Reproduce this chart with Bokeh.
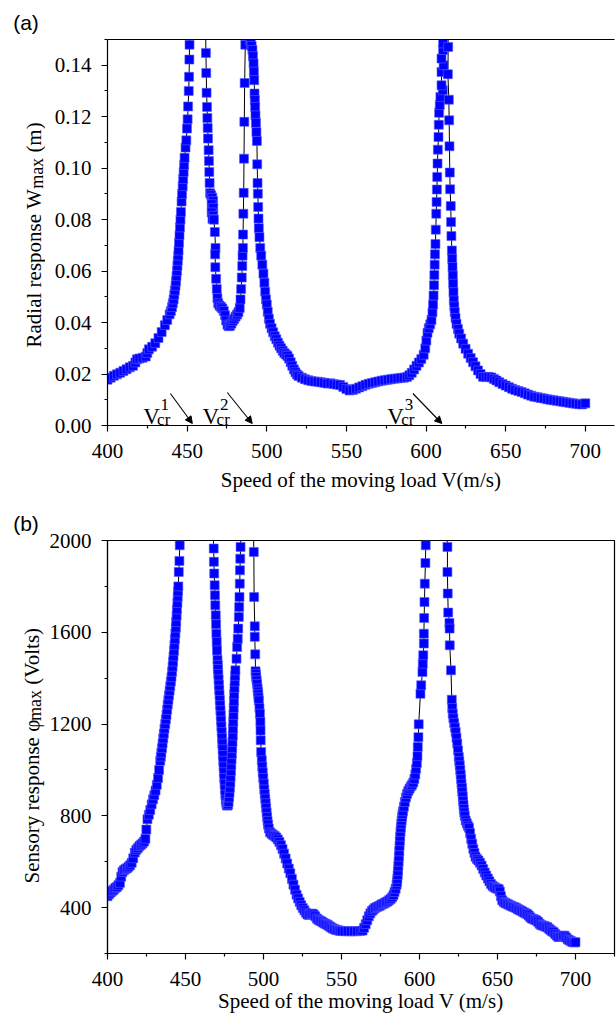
import math
from bokeh.plotting import figure
from bokeh.models import (FixedTicker, PrintfTickFormatter, Label, Arrow, NormalHead,
                          Range1d, LinearAxis)
from bokeh.layouts import column, row
from bokeh.embed import file_html
from bokeh.resources import INLINE

# ================= data =================
# ---- panel (a): radial response W_max (m) vs speed V (m/s) ----
a_rise1_v = [400, 402, 404, 406, 408, 410, 412, 414, 416, 417.5, 418.5, 420, 422, 424, 425, 426,
             428, 430, 432, 434, 436, 437.5, 439.0, 439.8, 440.5, 441.0, 441.5, 441.9, 442.3,
             442.7, 443.0, 443.3, 443.6, 443.9, 444.1, 444.4, 444.6, 444.9, 445.2, 445.5, 445.8,
             446.1, 446.5, 446.8, 447.2, 447.5, 447.8, 448.1, 448.4, 449.0, 449.5, 449.9, 450.3,
             450.6, 451.0, 451.2, 451.4, 451.5]
a_rise1_w = [0.0178, 0.0186, 0.0193, 0.0199, 0.0205, 0.0212, 0.0219, 0.0226, 0.0232, 0.0245,
             0.0257, 0.0260, 0.0263, 0.0268, 0.0282, 0.0296, 0.0306, 0.0320, 0.0340, 0.0363,
             0.0390, 0.0410, 0.0432, 0.0445, 0.0460, 0.0475, 0.0490, 0.0508, 0.0525, 0.0543,
             0.0560, 0.0580, 0.0600, 0.0620, 0.0640, 0.0660, 0.0680, 0.0710, 0.0740, 0.0770,
             0.0800, 0.0830, 0.0870, 0.0900, 0.0930, 0.0958, 0.0985, 0.1012, 0.1040, 0.1080,
             0.1108, 0.1154, 0.1190, 0.1240, 0.1300, 0.1355, 0.1422, 0.1480]
a_dip_v = [461.8, 462.0, 462.2, 462.5, 462.7, 462.9, 463.1, 463.5, 463.7, 463.9, 464.1, 464.4,
           465.1, 465.8, 466.3, 465.4, 466.4, 465.4, 466.4, 465.9, 466.8, 467.4, 467.8, 467.6,
           467.7, 468.2, 468.6, 469.0, 469.5, 470.3, 471.2, 472.1, 473.0, 473.8, 474.5, 475.3,
           476.1, 477.0, 477.8, 478.6, 479.5, 480.4, 481.3, 482.2, 483.0, 483.5, 483.9, 484.3,
           484.6, 484.8, 485.0, 485.1, 485.3, 485.5, 485.7, 485.9, 486.1, 486.5]
a_dip_w = [0.1448, 0.1370, 0.1293, 0.1238, 0.1195, 0.1156, 0.1115, 0.1070, 0.1028, 0.0985,
           0.0942, 0.0903, 0.0895, 0.0885, 0.0872, 0.0860, 0.0845, 0.0828, 0.0815, 0.0803,
           0.0800, 0.0752, 0.0690, 0.0665, 0.0615, 0.0570, 0.0530, 0.0495, 0.0475, 0.0466,
           0.0461, 0.0455, 0.0445, 0.0428, 0.0408, 0.0392, 0.0386, 0.0388, 0.0396, 0.0406,
           0.0414, 0.0423, 0.0431, 0.0440, 0.0457, 0.0490, 0.0530, 0.0575, 0.0620, 0.0660,
           0.0690, 0.0742, 0.0823, 0.0904, 0.1037, 0.1180, 0.1331, 0.1480]
a_fall2_v = [489.6, 490.0, 490.5, 491.0, 491.3, 491.7, 491.9, 492.1, 492.3, 492.5, 492.7, 492.9,
             493.2, 493.5, 493.8, 494.0, 494.2, 494.4, 494.6, 494.8, 495.0, 495.4, 495.9, 496.5,
             497.2, 497.9, 498.5, 499.0, 499.5, 500.0, 500.6, 501.3, 502.0, 503, 504, 505, 506,
             507, 508, 509, 510, 511, 512, 513, 514, 515, 516, 517, 518, 519, 520]
a_fall2_w = [0.1497, 0.1488, 0.1475, 0.1459, 0.1435, 0.1407, 0.1375, 0.1342, 0.1290, 0.1265,
             0.1238, 0.1205, 0.1176, 0.1140, 0.1106, 0.1015, 0.0942, 0.0901, 0.0849, 0.0804,
             0.0767, 0.0732, 0.0690, 0.0660, 0.0625, 0.0590, 0.0555, 0.0520, 0.0490, 0.0470,
             0.0442, 0.0415, 0.0395, 0.0378, 0.0362, 0.0347, 0.0335, 0.0322, 0.0310, 0.0300,
             0.0290, 0.0282, 0.0276, 0.0270, 0.0260, 0.0246, 0.0232, 0.0218, 0.0207, 0.0198,
             0.0192]
a_valley_v = [522, 524, 526, 528, 530, 532, 534, 536, 538, 540, 542, 544, 546, 548, 550, 552,
              554, 556, 558, 560, 562, 564, 566, 568, 570, 572, 574, 576, 578, 580, 582, 584,
              586, 588]
a_valley_w = [0.0186, 0.0180, 0.0176, 0.0173, 0.0171, 0.0170, 0.0168, 0.0166, 0.0163, 0.0164,
              0.0161, 0.0159, 0.0157, 0.0150, 0.0142, 0.0136, 0.0138, 0.0143, 0.0148, 0.0153,
              0.0158, 0.0162, 0.0165, 0.0168, 0.0171, 0.0174, 0.0176, 0.0178, 0.0180, 0.0182,
              0.0183, 0.0185, 0.0186, 0.0188]
a_rise3_v = [589.5, 591, 592.5, 594, 595.5, 597, 598.5, 599.5, 600.2, 600.9, 601.7, 602.6, 603.4,
             604.0, 604.4, 604.7, 605.0, 605.2, 605.4, 605.6, 605.9, 606.1, 606.4, 606.6, 606.8,
             607.0, 607.2, 607.4, 607.8, 608.0, 608.2, 608.6, 609.0, 610.5, 609.7, 609.7, 611.0,
             609.7, 610.7, 610.7]
a_rise3_w = [0.0195, 0.0205, 0.0218, 0.0232, 0.0245, 0.0258, 0.0275, 0.0300, 0.0330, 0.0360,
             0.0378, 0.0393, 0.0410, 0.0440, 0.0470, 0.0505, 0.0545, 0.0585, 0.0625, 0.0665,
             0.0705, 0.0761, 0.0823, 0.0869, 0.0917, 0.0966, 0.1018, 0.1072, 0.1121, 0.1169,
             0.1215, 0.1245, 0.1277, 0.1303, 0.1322, 0.1374, 0.1400, 0.1426, 0.1459, 0.1485]
a_fall3_v = [613.9, 613.7, 614.3, 614.5, 614.7, 614.9, 615.1, 615.5, 615.7, 615.9, 616.2, 616.4,
             616.6, 616.8, 617.0, 617.2, 617.4, 617.7, 618.0, 618.5, 619.1, 620.0, 620.8, 622.0,
             623.3, 624.8, 626.4, 628.0, 629.5, 631.0, 632.6, 634.2, 635.8, 637.5, 639.2, 641.0,
             642.6, 644.2]
a_fall3_w = [0.1471, 0.1365, 0.1266, 0.1186, 0.1085, 0.0983, 0.0918, 0.0853, 0.0791, 0.0736,
             0.0680, 0.0648, 0.0616, 0.0583, 0.0551, 0.0518, 0.0486, 0.0463, 0.0441, 0.0418,
             0.0395, 0.0375, 0.0357, 0.0338, 0.0318, 0.0298, 0.0279, 0.0262, 0.0246, 0.0230,
             0.0214, 0.0200, 0.0189, 0.0188, 0.0189, 0.0187, 0.0181, 0.0175]
a_tail_v = [646, 648, 650, 652, 654, 656, 658, 660, 662, 664, 666, 668, 670, 672, 674, 676, 678,
            680, 682, 684, 686, 688, 690, 692, 694, 696, 698, 700]
a_tail_w = [0.0168, 0.0161, 0.0155, 0.0149, 0.0143, 0.0138, 0.0134, 0.0130, 0.0125, 0.0120,
            0.0116, 0.0112, 0.0110, 0.0107, 0.0105, 0.0102, 0.0100, 0.0098, 0.0096, 0.0094,
            0.0092, 0.0090, 0.0088, 0.0086, 0.0085, 0.0083, 0.0082, 0.0086]
# resonance peaks lie above the plotted range (only the connecting lines are seen)
a_peak_v = [456.5, 488.0, 612.3]
a_peak_w = [0.40, 0.35, 0.30]

# ---- panel (b): sensory response phi_max (Volts) vs speed V (m/s) ----
b_rise1_v = [400, 401, 402, 403, 404, 405, 406, 407, 408, 408.8, 409.6, 410.5, 411.5, 412.5,
             413.5, 414.5, 415.5, 416.5, 417.5, 418.5, 419.5, 420.5, 421.5, 422.5, 423.5, 424.3,
             424.9, 425.6, 426.5, 427.4, 428.3, 429.2, 430, 430.8, 431.6, 432.4, 433.1, 433.8,
             434.2, 434.5, 434.9, 435.3, 435.7, 436.1, 436.5, 437.0, 437.4, 437.8, 438.2, 438.6,
             439.0, 439.4, 439.8, 440.2, 440.6, 441.0, 441.4, 441.7, 442.0, 442.3, 442.6, 442.9,
             443.2, 443.5, 443.8, 444.0, 444.3, 444.5, 444.8, 445.0, 445.2, 445.4, 445.7, 446.1,
             446.3]
b_rise1_phi = [450, 458, 466, 472, 478, 485, 490, 498, 508, 535, 555, 563, 568, 572, 578, 585,
               595, 615, 640, 652, 660, 668, 674, 680, 688, 700, 740, 785, 805, 825, 850, 872,
               890, 910, 935, 965, 1000, 1040, 1058, 1075, 1095, 1115, 1137, 1158, 1180, 1200,
               1220, 1240, 1262, 1285, 1305, 1325, 1345, 1365, 1385, 1405, 1428, 1450, 1472,
               1495, 1520, 1545, 1570, 1595, 1620, 1645, 1672, 1700, 1728, 1755, 1778, 1800,
               1863, 1911, 1979]
b_dip_v = [468.1, 468.2, 468.4, 468.7, 468.9, 469.1, 469.4, 469.6, 469.8, 470.0, 470.2, 470.5,
           470.7, 470.8, 471.0, 471.2, 471.4, 471.6, 471.8, 472.0, 472.2, 472.4, 472.6, 472.8,
           473.0, 473.2, 473.4, 473.6, 473.8, 474.0, 474.2, 474.4, 474.6, 474.8, 475.05, 475.3,
           475.55, 475.8, 476.1, 476.4, 476.7, 477.0, 477.3, 477.6, 477.9, 478.2, 478.45, 478.7,
           478.9, 479.1, 479.3, 479.5, 479.7, 479.9, 480.1, 480.3, 480.45, 480.6, 480.75, 480.9,
           481.05, 481.2, 481.4, 481.6, 481.8, 482.0, 482.7, 483.1, 483.5, 483.8, 484.2, 484.4,
           484.6, 484.8, 484.9, 485.1, 485.3]
b_dip_phi = [1965, 1907, 1856, 1805, 1761, 1718, 1674, 1635, 1594, 1558, 1521, 1480, 1458, 1440,
             1418, 1395, 1372, 1350, 1328, 1305, 1282, 1260, 1238, 1215, 1190, 1165, 1140, 1115,
             1090, 1065, 1040, 1015, 990, 965, 940, 915, 892, 870, 858, 848, 845, 845, 850, 860,
             880, 900, 922, 945, 970, 995, 1020, 1045, 1070, 1095, 1122, 1150, 1180, 1210, 1240,
             1270, 1300, 1330, 1358, 1385, 1410, 1434, 1485, 1536, 1572, 1616, 1667, 1710, 1754,
             1812, 1870, 1921, 1972]
b_fall2_v = [493.8, 494.0, 494.4, 494.4, 494.7, 494.9, 495.1, 495.3, 495.6, 495.9, 496.2, 496.4,
             496.6, 496.8, 497.0, 497.4, 497.7, 498.0, 498.1, 498.2, 498.5, 498.9, 499.2, 499.5,
             499.8, 500.2, 500.5, 500.8, 501.1, 501.4, 501.7, 502.0, 502.3, 502.6, 502.9, 503.4]
b_fall2_phi = [1950, 1754, 1626, 1580, 1504, 1430, 1418, 1405, 1390, 1375, 1355, 1342, 1330,
               1316, 1303, 1270, 1245, 1209, 1172, 1129, 1078, 1042, 1015, 990, 965, 940, 915,
               895, 875, 855, 835, 815, 795, 778, 762, 745]
b_valley_v = [504.2, 505.2, 506.2, 507.2, 508.2, 509.2, 510.2, 511.2, 512.2, 513.2, 514.2, 515.2,
              516.2, 517.2, 518.2, 519.2, 520.2, 521.2, 522.2, 523.2, 524.2, 525.2, 526.2, 527.2,
              528.2, 529.2, 530.2, 531.2, 532.2, 533.2, 534.2, 535.2, 536.2, 537.2, 538.2, 539.2,
              540.2, 541.2, 542.2, 543.2, 544.2, 545.2, 546.2, 547.2, 548.2, 549.2, 550.2, 552,
              554, 556, 558, 560, 562]
b_valley_phi = [728, 722, 717, 712, 706, 697, 686, 672, 655, 635, 614, 592, 570, 550, 525, 500,
                478, 456, 440, 425, 410, 398, 388, 378, 370, 368, 372, 374, 370, 362, 352, 347,
                343, 340, 335, 331, 328, 324, 319, 314, 310, 307, 304, 302, 300, 299, 298, 297,
                297, 297, 297, 297, 298]
b_rise3_v = [563.5, 564.5, 565.5, 566.5, 567.5, 568.5, 569.5, 570.5, 571.5, 572.5, 573.5, 574.5,
             575.5, 576.5, 577.5, 578.5, 579.5, 580.5, 581.5, 582.5, 583.3, 584.0, 584.7, 585.3,
             585.6, 585.8, 586.0, 586.2, 586.4, 586.6, 586.8, 587.0, 587.2, 587.4, 587.6, 587.8,
             588.05, 588.3, 588.55, 588.8, 589.1, 589.4, 590.0, 590.6, 591.3, 592.0, 592.8, 593.6,
             594.4, 595.2, 596.0, 596.7, 597.3, 597.8, 598.3, 598.7, 598.9, 599.3, 599.5, 600.6,
             601.1, 601.9, 602.1, 602.4, 602.8, 602.8, 603.0, 603.2, 603.4, 603.8, 604.0]
b_rise3_phi = [300, 312, 328, 345, 362, 375, 385, 392, 398, 402, 405, 408, 413, 416, 419, 423,
               427, 432, 438, 445, 455, 468, 482, 500, 512, 525, 542, 560, 580, 600, 622, 645,
               668, 690, 710, 730, 748, 765, 780, 795, 808, 820, 840, 860, 880, 895, 908, 918,
               928, 935, 945, 960, 980, 1005, 1030, 1060, 1100, 1143, 1199, 1332, 1369, 1427,
               1463, 1500, 1551, 1594, 1662, 1732, 1812, 1902, 1979]
b_fall3_v = [617.9, 617.9, 618.1, 618.4, 619.2, 619.3, 619.4, 620.2, 620.7, 621.0, 621.3, 621.7,
             622.2, 622.7, 623.2, 623.7, 624.2, 624.7, 625.2, 625.5, 625.8, 626.1, 626.4, 626.7,
             626.9, 627.2, 627.4, 627.7, 627.9, 628.2, 628.4, 628.7, 629.0, 629.6, 630.3, 631.0,
             631.7, 632.4, 633.1, 633.8, 634.5, 635.2, 635.9, 636.8, 637.8, 638.8, 639.8, 640.8,
             641.8, 642.8, 643.8, 644.8, 645.8, 646.8, 647.8, 648.8, 649.8, 650.8, 651.5, 652.2,
             653]
b_fall3_phi = [1972, 1863, 1769, 1686, 1640, 1616, 1543, 1434, 1306, 1270, 1245, 1225, 1205,
               1185, 1165, 1140, 1115, 1085, 1056, 1038, 1020, 1000, 980, 960, 940, 922, 905,
               885, 865, 848, 830, 815, 800, 780, 768, 757, 748, 725, 700, 678, 655, 638, 622,
               612, 605, 595, 583, 568, 553, 540, 527, 515, 503, 495, 490, 485, 483, 480, 470,
               450, 432]
b_tail_v = [654, 655, 656, 657, 658, 659, 660, 661, 662, 663, 664, 665, 666, 667, 668, 669, 670,
            671, 672, 673, 674, 675, 676, 677, 678, 679, 680, 681, 682, 683, 684, 685, 686, 687,
            688, 689, 690, 691, 692, 693, 694, 695, 696, 697, 698, 699, 700]
b_tail_phi = [425, 420, 417, 414, 410, 407, 404, 402, 398, 394, 390, 387, 383, 379, 375, 372, 366,
              358, 352, 350, 347, 344, 338, 330, 324, 322, 320, 317, 314, 308, 302, 297, 293,
              285, 278, 272, 272, 275, 278, 277, 270, 262, 258, 254, 250, 248, 249]
b_peak_v = [457.0, 489.5, 611.0]
b_peak_phi = [4000, 4000, 4000]

# ---- axes ----
x_major = [400, 450, 500, 550, 600, 650, 700]
x_minor = [425, 475, 525, 575, 625, 675, 725]
ya_major = [0.00, 0.02, 0.04, 0.06, 0.08, 0.10, 0.12, 0.14]
ya_minor = [0.01, 0.03, 0.05, 0.07, 0.09, 0.11, 0.13, 0.15]
yb_major = [400, 800, 1200, 1600, 2000]
yb_minor = [200, 600, 1000, 1400, 1800]


def join(parts):
    xs, ys = [], []
    for vx, vy in parts:
        assert len(vx) == len(vy), (len(vx), len(vy))
        xs += list(vx)
        ys += list(vy)
    return xs, ys


speed_a, radial_w = join([
    (a_rise1_v, a_rise1_w), (a_peak_v[:1], a_peak_w[:1]), (a_dip_v, a_dip_w),
    (a_peak_v[1:2], a_peak_w[1:2]), (a_fall2_v, a_fall2_w), (a_valley_v, a_valley_w),
    (a_rise3_v, a_rise3_w), (a_peak_v[2:], a_peak_w[2:]), (a_fall3_v, a_fall3_w),
    (a_tail_v, a_tail_w)])
speed_b, sensory_phi = join([
    (b_rise1_v, b_rise1_phi), (b_peak_v[:1], b_peak_phi[:1]), (b_dip_v, b_dip_phi),
    (b_peak_v[1:2], b_peak_phi[1:2]), (b_fall2_v, b_fall2_phi), (b_valley_v, b_valley_phi),
    (b_rise3_v, b_rise3_phi), (b_peak_v[2:], b_peak_phi[2:]), (b_fall3_v, b_fall3_phi),
    (b_tail_v, b_tail_phi)])

SERIF = "Liberation Serif"
SANS = "Liberation Sans"

# ---- layout geometry (page pixels) ----
STRIP_W = 45          # left strip holding the rotated y titles and panel letters
FRAME_L = 107         # page x of the plot frames' left edge
A_FW, A_H, A_XEND = 508, 386, 718.3
B_FW, B_H, B_XEND = 507, 413, 725
A_FIG_H = 495
B_FIG_H = 525
B_TOP = A_FIG_H
TOTAL_H = A_FIG_H + B_FIG_H

TW = {'R': 667, 'a': 444, 'd': 500, 'i': 278, 'l': 278, ' ': 250, 'r': 333, 'e': 444,
      's': 389, 'p': 500, 'o': 500, 'n': 500, 'W': 944, 'm': 778, 'x': 500, '(': 333,
      ')': 333, 'S': 556, 'y': 500, 'V': 722, 't': 278, 'c': 444, 'φ': 520}


def tw(s, size):
    return sum(TW.get(c, 500) for c in s) / 1000.0 * size


def xa(px):
    return 400 + (px - FRAME_L) / A_FW * (A_XEND - 400)


def ya(py):
    return 0.15 * (425 - py) / A_H


def style_axis(ax, standoff, label_standoff=0):
    ax.axis_line_color = "black"
    ax.axis_line_width = 1.2
    ax.major_tick_line_color = "black"
    ax.major_tick_line_width = 1.2
    ax.minor_tick_line_color = "black"
    ax.minor_tick_line_width = 1.2
    ax.major_tick_in = 0
    ax.major_tick_out = 6
    ax.minor_tick_in = 0
    ax.minor_tick_out = 3
    ax.major_label_text_font = SERIF
    ax.major_label_text_font_size = "21px"
    ax.major_label_text_font_style = "normal"
    ax.major_label_text_color = "black"
    ax.major_label_standoff = standoff
    ax.axis_label_text_font = SERIF
    ax.axis_label_text_font_size = "21px"
    ax.axis_label_text_font_style = "normal"
    ax.axis_label_text_color = "black"
    ax.axis_label_standoff = label_standoff


def add_text(p, x, y, text, size, font=SERIF, angle=0.0):
    p.add_layout(Label(x=x, y=y, text=text, text_font=font, text_font_size=f"{size}px",
                       angle=angle, text_align="left", text_baseline="alphabetic",
                       text_color="black"))


def draw_series(p, xs, ys):
    p.line(xs, ys, line_color="black", line_width=1)
    p.scatter(xs, ys, marker="square", size=9, fill_color="#0000ff",
              line_color="#5a5aff", line_width=0.6)


# ================= panel (a) =================
pa = figure(width=616 - STRIP_W, height=A_FIG_H, x_range=Range1d(400, A_XEND),
            y_range=Range1d(0, 0.15), output_backend="svg", toolbar_location=None,
            min_border_left=FRAME_L - STRIP_W, min_border_right=1, min_border_top=39,
            min_border_bottom=A_FIG_H - 39 - A_H,
            background_fill_color="white", border_fill_color="white", outline_line_color=None)
pa.grid.visible = False
draw_series(pa, speed_a, radial_w)

pa.xaxis.ticker = FixedTicker(ticks=x_major, minor_ticks=x_minor)
pa.yaxis.ticker = FixedTicker(ticks=ya_major, minor_ticks=ya_minor)
pa.yaxis.formatter = PrintfTickFormatter(format="%.2f")
pa.xaxis.axis_label = "Speed of the moving load V(m/s)"
style_axis(pa.below[0], 12, 7)
style_axis(pa.left[0], 10)
top_a = LinearAxis(ticker=FixedTicker(ticks=[]), axis_line_color="black", axis_line_width=1.2,
                   major_tick_line_color=None, minor_tick_line_color=None,
                   major_label_text_font_size="0px")
pa.add_layout(top_a, "above")

for vx, sup, a0, a1 in [(142.7, "1", (170, 393), (192, 423)),
                        (202.3, "2", (227, 392), (252, 423)),
                        (387.3, "3", (413, 393), (442, 423))]:
    add_text(pa, xa(vx), ya(415.5), "V", 23)
    add_text(pa, xa(vx + 14), ya(418.5), "cr", 17)
    add_text(pa, xa(vx + 17.5), ya(403.5), sup, 17)
    pa.add_layout(Arrow(end=NormalHead(size=7, fill_color="black", line_color="black",
                                       line_width=1),
                        x_start=xa(a0[0]), y_start=ya(a0[1]), x_end=xa(a1[0]), y_end=ya(a1[1]),
                        line_color="black", line_width=1.1))

# ================= panel (b) =================
pb = figure(width=616 - STRIP_W, height=B_FIG_H, x_range=Range1d(400, B_XEND),
            y_range=Range1d(200, 2000), output_backend="svg", toolbar_location=None,
            min_border_left=FRAME_L - STRIP_W, min_border_right=2, min_border_top=540 - B_TOP,
            min_border_bottom=B_FIG_H - (540 - B_TOP) - B_H,
            background_fill_color="white", border_fill_color="white",
            outline_line_color="black", outline_line_width=1.2)
pb.grid.visible = False
draw_series(pb, speed_b, sensory_phi)

pb.xaxis.ticker = FixedTicker(ticks=x_major, minor_ticks=x_minor)
pb.yaxis.ticker = FixedTicker(ticks=yb_major, minor_ticks=yb_minor)
pb.xaxis.axis_label = "Speed of the moving load V (m/s)"
style_axis(pb.below[0], 12, 0)
style_axis(pb.left[0], 10)

# ================= left strip: y titles and panel letters =================
# a plain canvas whose data coordinates equal page pixels (y downwards)
strip = figure(width=STRIP_W, height=TOTAL_H, x_range=Range1d(0, STRIP_W),
               y_range=Range1d(TOTAL_H, 0), x_axis_type=None, y_axis_type=None,
               output_backend="svg", toolbar_location=None,
               min_border_left=0, min_border_right=0, min_border_top=0, min_border_bottom=0,
               background_fill_color="white", border_fill_color="white",
               outline_line_color=None)

py_cur = 347
for text, size, dx in [("Radial response W", 21, 0), ("max", 18, 3), ("(m)", 21, 0)]:
    if text == "(m)":
        py_cur -= tw(" ", 21)
    add_text(strip, 33 + dx, py_cur, text, size, angle=math.pi / 2)
    py_cur -= tw(text, size)
add_text(strip, 12.7, 22.3, "(a)", 21, font=SANS)

py_cur = 883
for text, size, dx in [("Sensory response φ", 21, 0), ("max", 18, 3), ("(Volts)", 21, 0)]:
    if text == "(Volts)":
        py_cur -= tw(" ", 21)
    add_text(strip, 31 + dx, py_cur, text, size, angle=math.pi / 2)
    py_cur -= tw(text, size)
add_text(strip, 12.7, 523, "(b)", 21, font=SANS)

layout = row(strip, column(pa, pb, spacing=0), spacing=0)
open("out.html", "w").write(file_html(layout, INLINE))
